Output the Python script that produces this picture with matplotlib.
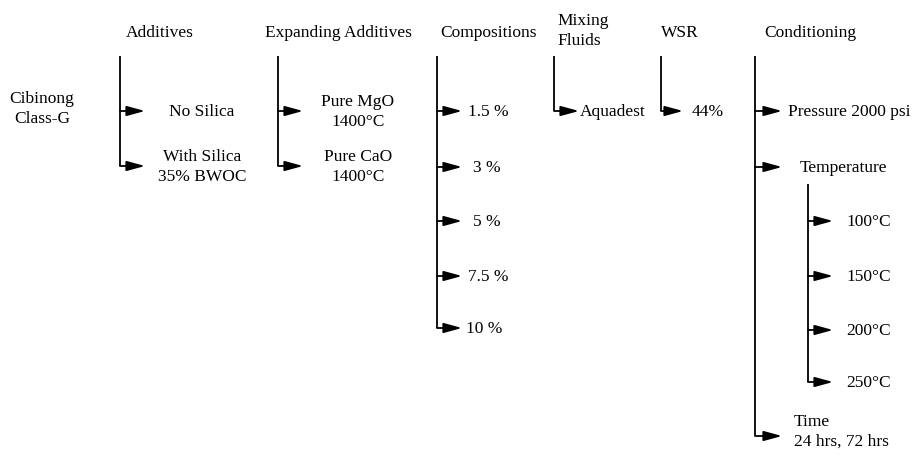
import matplotlib.pyplot as plt

plt.rcParams["font.family"] = ["Liberation Serif", "DejaVu Serif"]

# headers of the flow columns
headers = ["Additives", "Expanding Additives", "Compositions", "Mixing\nFluids", "WSR", "Conditioning"]
root_label = "Cibinong\nClass-G"

additives = ["No Silica", "With Silica\n35% BWOC"]
expanding = ["Pure MgO\n1400°C", "Pure CaO\n1400°C"]
compositions = ["1.5 %", "3 %", "5 %", "7.5 %", "10 %"]
mixing_fluids = ["Aquadest"]
wsr = ["44%"]
conditioning = ["Pressure 2000 psi", "Temperature", "Time\n24 hrs, 72 hrs"]
temperatures = ["100°C", "150°C", "200°C", "250°C"]

W, H = 923, 456
fig = plt.figure(figsize=(W / 100, H / 100), dpi=100)
ax = fig.add_axes([0, 0, 1, 1])
ax.set_xlim(0, W)
ax.set_ylim(H, 0)
ax.axis("off")

fs = 12.5
lw = 1.3


def branch(x, y_top, ys, labels, text_x, arrow_len=25, ha="left", text_dx=None, text_dy=None):
    ax.plot([x, x], [y_top, ys[-1]], color="k", lw=lw, solid_capstyle="butt")
    for i, (y, lab) in enumerate(zip(ys, labels)):
        ax.annotate(
            "", xy=(x + arrow_len, y), xytext=(x, y),
            arrowprops=dict(arrowstyle="-|>,head_length=1.1,head_width=0.3",
                            color="k", lw=lw, shrinkA=0, shrinkB=0, mutation_scale=10),
        )
        tx = text_x + (text_dx[i] if text_dx else 0)
        ty = y + (text_dy[i] if text_dy else 0)
        ax.text(tx, ty, lab, fontsize=fs, ha=ha, va="center", linespacing=1.3)


# header row
header_pos = [(160, 33, "center"), (265, 33, "left"), (440, 33, "left"),
              (557, 31, "left"), (661, 33, "left"), (764, 33, "left")]
for (hx, hy, ha), h in zip(header_pos, headers):
    ax.text(hx, hy, h, fontsize=fs, ha=ha, va="center", linespacing=1.3)

ax.text(42, 109, root_label, fontsize=fs, ha="center", va="center", linespacing=1.3)

branch(120, 57, [112, 167], additives, 202, ha="center")
branch(278, 57, [112, 167], expanding, 358, ha="center")
branch(437, 57, [112, 168, 222, 277, 329], compositions, 468,
       text_dx=[0, 5, 5, 0, -2])
branch(554, 57, [112], mixing_fluids, 580)
branch(661, 57, [112], wsr, 692, arrow_len=22)
branch(755, 57, [112, 168, 437], conditioning, 788, arrow_len=27,
       text_dx=[0, 12, 6], text_dy=[0, 0, -5])
branch(808, 185, [222, 277, 331, 383], temperatures, 846)

fig.savefig("out.png", dpi=100)
